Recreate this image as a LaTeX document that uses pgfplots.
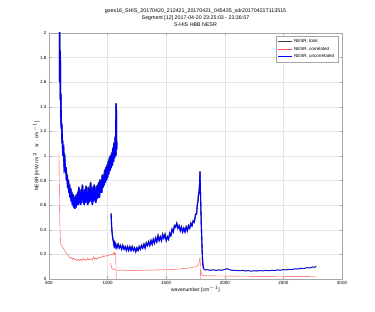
\documentclass[border=0pt]{standalone}
\usepackage{fontspec}
\setmainfont{Liberation Sans}
\usepackage{pgfplots}
\usepackage{pgfplotstable}
\pgfplotsset{compat=1.18}

% band 1 uncorrelated
\pgfplotstableread{
x y
590 2.02
592 1.6
595 1.85
598 1.45
600 1.5
603 1.3
606 1.22
609 1.25
612 1.1
615 1.12
620 1.0
625 1.03
630 0.92
635 0.95
640 0.86
645 0.9
650 0.8
655 0.84
660 0.74
665 0.8
670 0.7
675 0.76
680 0.66
685 0.73
690 0.63
695 0.7
700 0.6
705 0.68
710 0.58
715 0.66
720 0.57
725 0.67
730 0.58
735 0.68
740 0.6
745 0.7
750 0.6
755 0.74
760 0.62
765 0.7
770 0.6
775 0.72
780 0.62
785 0.76
790 0.64
795 0.7
800 0.6
805 0.72
810 0.62
815 0.75
820 0.63
825 0.7
830 0.6
835 0.74
840 0.62
845 0.72
850 0.63
855 0.78
860 0.64
865 0.72
870 0.6
875 0.74
880 0.63
885 0.76
890 0.64
895 0.72
900 0.62
905 0.75
910 0.65
915 0.76
920 0.66
925 0.78
930 0.66
935 0.8
940 0.7
945 0.8
950 0.7
955 0.84
960 0.74
965 0.84
970 0.76
975 0.88
980 0.78
985 0.9
990 0.8
995 0.92
1000 0.82
1005 0.95
1010 0.85
1015 0.98
1020 0.88
1025 1.0
1030 0.9
1035 1.02
1040 0.92
1045 1.06
1050 0.95
1055 1.1
1060 0.98
1065 1.15
1070 1.0
1073 1.42
1076 1.05
1078 1.1
}\bandone

\pgfplotstableread{
x y
1030 0.53
1033 0.45
1036 0.4
1040 0.36
1045 0.32
1050 0.3
1055 0.27
1060 0.29
1065 0.26
1070 0.28
1080 0.25
1090 0.28
1100 0.25
1110 0.27
1120 0.24
1130 0.27
1140 0.24
1150 0.26
1160 0.23
1170 0.26
1180 0.23
1190 0.26
1200 0.23
1210 0.26
1220 0.23
1230 0.25
1240 0.22
1250 0.25
1260 0.23
1270 0.26
1280 0.24
1290 0.27
1300 0.25
1310 0.28
1320 0.25
1330 0.29
1340 0.27
1350 0.3
1360 0.27
1370 0.31
1380 0.28
1390 0.32
1400 0.29
1410 0.33
1420 0.3
1430 0.35
1440 0.31
1450 0.34
1460 0.31
1470 0.36
1480 0.33
1490 0.36
1500 0.31
1510 0.34
1520 0.32
1530 0.37
1540 0.35
1550 0.4
1560 0.38
1570 0.43
1580 0.42
1590 0.45
1600 0.41
1610 0.43
1620 0.39
1630 0.42
1640 0.38
1650 0.41
1660 0.38
1670 0.42
1680 0.39
1690 0.43
1700 0.41
1710 0.45
1720 0.43
1730 0.47
1740 0.46
1750 0.52
1760 0.53
1765 0.6
1770 0.62
1775 0.68
1780 0.7
1785 0.77
1788 0.87
1791 0.75
1795 0.6
1800 0.42
1805 0.28
1810 0.15
1815 0.1
1820 0.08
}\bandtwo

\pgfplotstableread{
x y
1820 0.08
1835 0.072
1850 0.075
1875 0.07
1900 0.074
1925 0.069
1950 0.073
1975 0.07
2000 0.077
2020 0.083
2040 0.074
2060 0.071
2100 0.068
2125 0.066
2150 0.069
2175 0.064
2200 0.067
2225 0.063
2250 0.066
2275 0.064
2300 0.067
2325 0.065
2350 0.069
2375 0.066
2400 0.07
2425 0.068
2450 0.073
2475 0.07
2500 0.075
2525 0.073
2550 0.078
2575 0.076
2600 0.082
2625 0.08
2650 0.086
2675 0.084
2700 0.091
2725 0.089
2750 0.097
2765 0.094
2780 0.102
}\bandthree

\begin{document}
\begin{tikzpicture}
\useasboundingbox (-49pt,-33pt) rectangle (326pt,279pt);
\begin{axis}[
    at={(0,0)}, anchor=south west,
    scale only axis,
    width=293pt, height=246pt,
    xmin=500, xmax=3000,
    ymin=0, ymax=2,
    xtick={500,1000,...,3000},
    ytick={0,0.2,...,2},
    yticklabels={0,0.2,0.4,0.6,0.8,1,1.2,1.4,1.6,1.8,2},
    x tick label style={/pgf/number format/1000 sep={}},
    grid=major,
    grid style={gray!20, line width=0.3pt},
    tick align=inside,
    major tick length=2.5pt,
    axis line style={gray!70, line width=0.4pt},
    tick style={gray!70, line width=0.3pt},
    ticklabel style={font=\fontsize{4.5}{5}\selectfont},
    /pgf/number format/assume math mode=true,
    xticklabel style={yshift=1pt},
    yticklabel style={xshift=1pt},
    xlabel={wavenumber [cm$^{-1}$]},
    ylabel={NESR [mW / m$^{2}$ $\cdot$ sr $\cdot$ cm$^{-1}$]},
    label style={font=\fontsize{5}{6}\selectfont},
    xlabel style={yshift=5pt},
    ylabel style={yshift=-6pt},
    title={goes16\_SHIS\_20170420\_212421\_20170421\_045435\_sdr20170421T113515\\Segment [12] 2017-04-20 23:25:03 - 23:36:57\\S-HIS HBB NESR},
    title style={font=\fontsize{5.3}{7}\selectfont, align=center, yshift=-3pt},
    legend style={at={(0.986,0.988)}, anchor=north east,
        font=\fontsize{4.5}{6}\selectfont, draw=gray!70, line width=0.3pt,
        row sep=-1.5pt, inner sep=1.5pt, cells={anchor=west}},
    legend image code/.code={\draw[#1, line width=0.4pt] (0pt,0pt) -- (14pt,0pt);},
]
% total (drawn first, under the uncorrelated part)
\addplot[black!75, line width=1.6pt, yshift=1.2pt] table {\bandone};
\addlegendentry{NESR, total}
\addplot[black!75, line width=1.1pt, yshift=0.8pt, forget plot] table {\bandtwo};
\addplot[black!75, line width=0.6pt, yshift=0.3pt, forget plot] table {\bandthree};

% correlated
\addplot[red!70, line width=0.4pt] coordinates {
(585,1.03) (587,0.85) (590,0.6) (594,0.4) (598,0.3) (602,0.28) (610,0.27)
(620,0.25) (630,0.24) (640,0.22) (650,0.21) (660,0.2) (670,0.18) (680,0.17)
(690,0.175) (700,0.16) (710,0.17) (720,0.155) (730,0.16) (740,0.15) (750,0.16)
(760,0.15) (770,0.16) (780,0.15) (790,0.165) (800,0.155) (810,0.16) (820,0.15)
(830,0.17) (840,0.155) (850,0.16) (860,0.165) (870,0.155) (880,0.18) (890,0.16)
(900,0.17) (910,0.16) (920,0.175) (930,0.17) (940,0.18) (950,0.175) (960,0.19)
(970,0.18) (980,0.19) (990,0.185) (1000,0.195) (1010,0.19) (1020,0.2)
(1030,0.195) (1040,0.2) (1050,0.205) (1055,0.22) (1060,0.2) (1065,0.21)
(1070,0.2) (1073,0.0)
};
\addlegendentry{NESR, correlated}
\addplot[red!70, line width=0.4pt, forget plot] coordinates {
(1025,0.13) (1030,0.11) (1035,0.09) (1040,0.085) (1050,0.08) (1060,0.075)
(1080,0.072) (1100,0.07) (1120,0.074) (1140,0.069) (1160,0.072) (1180,0.068)
(1200,0.071) (1220,0.067) (1240,0.07) (1260,0.068) (1280,0.072) (1300,0.069)
(1320,0.073) (1340,0.07) (1360,0.074) (1380,0.071) (1400,0.075) (1420,0.072)
(1440,0.076) (1460,0.073) (1480,0.077) (1500,0.074) (1520,0.078) (1540,0.076)
(1560,0.079) (1580,0.077) (1600,0.082) (1620,0.08) (1640,0.085) (1660,0.083)
(1680,0.088) (1700,0.09) (1720,0.094) (1740,0.098) (1750,0.1) (1760,0.105)
(1770,0.11) (1780,0.13) (1788,0.17) (1792,0.12) (1795,0.0)
};
\addplot[red!70, line width=0.4pt, forget plot] coordinates {
(1795,0.07) (1800,0.05) (1805,0.035) (1810,0.03) (1850,0.026) (1900,0.025)
(2000,0.024) (2100,0.023) (2200,0.022) (2300,0.021) (2400,0.021) (2500,0.02)
(2600,0.019) (2700,0.019) (2780,0.018)
};

% uncorrelated
\addplot[blue, line width=1.6pt] table {\bandone};
\addlegendentry{NESR, uncorrelated}
\addplot[blue, line width=1.1pt, forget plot] table {\bandtwo};
\addplot[blue, line width=0.7pt, forget plot] table {\bandthree};
\end{axis}
\end{tikzpicture}
\end{document}
